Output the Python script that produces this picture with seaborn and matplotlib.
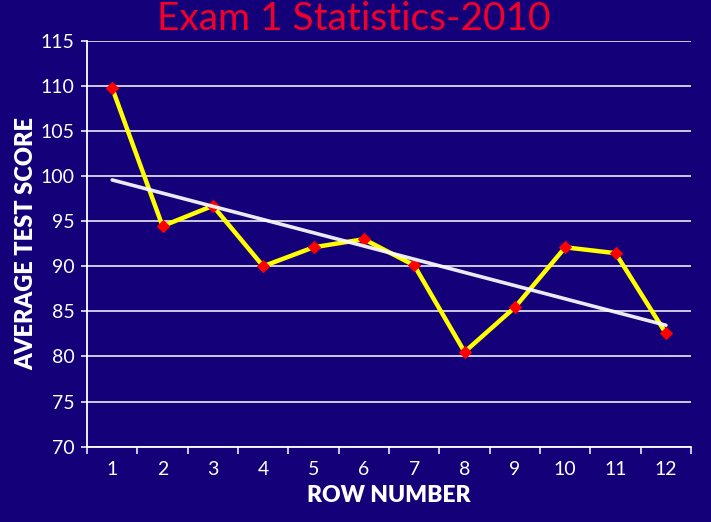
import matplotlib
matplotlib.use("Agg")
import matplotlib.pyplot as plt
import matplotlib.ticker as mticker
import seaborn as sns
import pandas as pd
import numpy as np

rows = [1, 2, 3, 4, 5, 6, 7, 8, 9, 10, 11, 12]
scores = [109.75, 94.45, 96.7, 90.0, 92.1, 93.0, 90.1, 80.5, 85.45, 92.1, 91.45, 82.55]
y_ticks = [70, 75, 80, 85, 90, 95, 100, 105, 110, 115]

title = "Exam 1 Statistics-2010"
xlabel = "ROW NUMBER"
ylabel = "AVERAGE TEST SCORE"

BG = "#140078"
RED = "#f2002a"

sns.set_theme(style="white")
plt.rcParams['font.family'] = ['Lato', 'DejaVu Sans']

df = pd.DataFrame({"row": rows, "score": scores})

fig = plt.figure(figsize=(7.11, 5.22), dpi=100, facecolor=BG)
ax = fig.add_axes([0.1224, 0.1443, 0.8496, 0.7777])
ax.set_facecolor(BG)

sns.lineplot(data=df, x="row", y="score", ax=ax, color="#ffff00", linewidth=3.2,
             marker="D", markersize=6, markerfacecolor="#ff0000",
             markeredgecolor="#ff0000", zorder=3)
sns.regplot(data=df, x="row", y="score", ax=ax, scatter=False, ci=None, truncate=True,
            line_kws=dict(color="white", linewidth=2.6, alpha=0.92, zorder=4))

ax.set_xlim(0.5, 12.5)
ax.set_ylim(70, 115)
ax.set_yticks(y_ticks)
ax.set_yticklabels([str(v) for v in y_ticks])
ax.yaxis.grid(True, color="white", linewidth=1.1)
ax.xaxis.grid(False)

ax.xaxis.set_major_locator(mticker.FixedLocator(np.arange(0.5, 13.0, 1.0)))
ax.xaxis.set_major_formatter(mticker.NullFormatter())
ax.xaxis.set_minor_locator(mticker.FixedLocator(rows))
ax.xaxis.set_minor_formatter(mticker.FixedFormatter([str(r) for r in rows]))
ax.tick_params(axis="x", which="major", direction="out", length=5, width=1.1, color="white", bottom=True)
ax.tick_params(axis="x", which="minor", length=0, labelsize=14, labelcolor="white", pad=10)
ax.tick_params(axis="y", which="major", direction="out", length=4.5, width=1.1, color="white",
               labelsize=14, labelcolor="white", pad=4.5, left=True)

for s in ["top", "right"]:
    ax.spines[s].set_visible(False)
for s in ["left", "bottom"]:
    ax.spines[s].set_visible(True)
    ax.spines[s].set_color("white")
    ax.spines[s].set_linewidth(1.3)

ax.set_xlabel(xlabel, color="white", fontsize=16.5, fontweight="heavy", labelpad=5)
ax.set_ylabel(ylabel, color="white", fontsize=17, fontweight="heavy", labelpad=2)

fig.text(0.498, 0.963, title, color=RED, fontsize=28, ha="center", va="center")

fig.savefig("out.png", dpi=100, facecolor=BG)
